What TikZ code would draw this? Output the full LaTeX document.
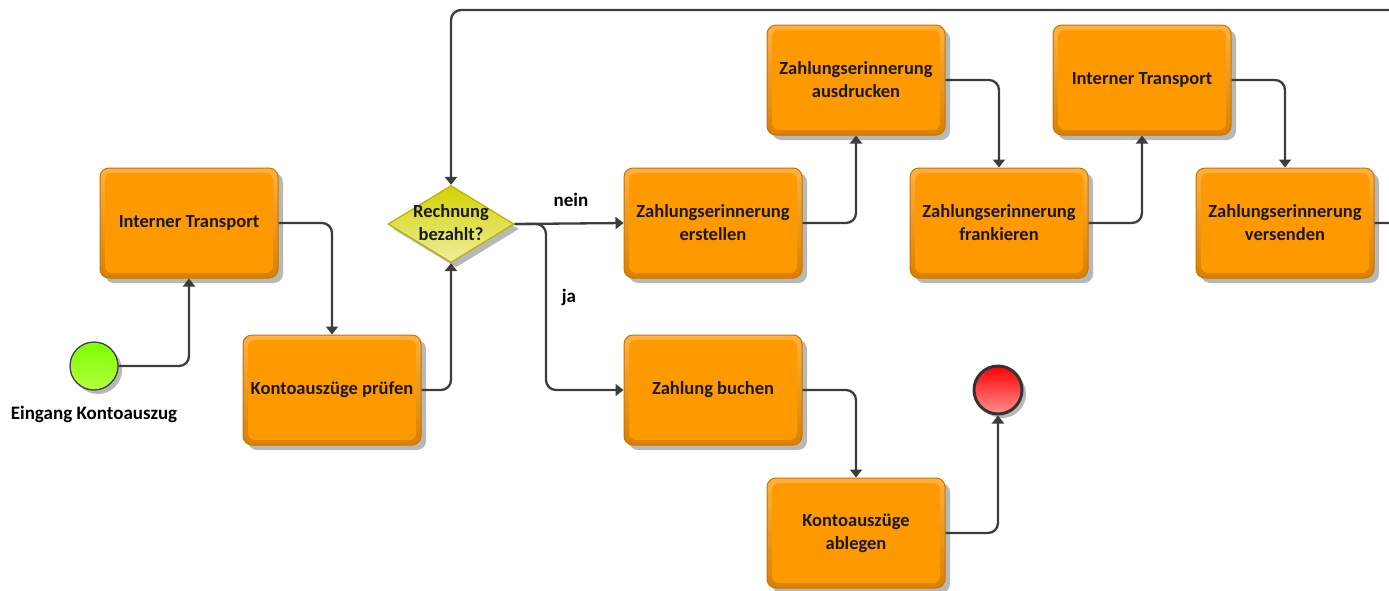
\documentclass[tikz,border=0pt]{standalone}
\usepackage{fontspec}
\setmainfont{Carlito}
\usetikzlibrary{shapes.geometric,arrows.meta,shadows,calc}
\definecolor{boxfill}{HTML}{FF9900}
\definecolor{rimtop}{HTML}{FFB040}
\definecolor{rimbot}{HTML}{D98000}
\definecolor{boxborder}{HTML}{C67500}
\definecolor{conncol}{HTML}{3C3C3C}
\definecolor{diatop}{HTML}{D2D200}
\definecolor{diabot}{HTML}{EEEEA0}
\definecolor{diaborder}{HTML}{B5B500}
\definecolor{greentop}{HTML}{7CFF00}
\definecolor{greenbot}{HTML}{B4FF40}
\definecolor{redtop}{HTML}{FF0000}
\definecolor{redbot}{HTML}{FF9090}
\tikzset{
  taskbox/.style={rectangle, rounded corners=9pt, minimum width=178pt, minimum height=110pt,
    draw=boxborder, line width=1pt, top color=rimtop, bottom color=rimbot,
    drop shadow={shadow xshift=5pt, shadow yshift=-5pt, fill=black!35, opacity=0.8},
    path picture={\fill[boxfill, rounded corners=7pt]
      ([shift={(5pt,5pt)}]path picture bounding box.south west) rectangle
      ([shift={(-5pt,-5pt)}]path picture bounding box.north east);},
    font=\bfseries\fontsize{18.5}{23}\selectfont, align=center, text=black!90},
  gateway/.style={diamond, minimum width=126pt, minimum height=77pt, inner sep=0pt,
    draw=diaborder, line width=1.2pt, top color=diatop, bottom color=diabot,
    drop shadow={shadow xshift=5pt, shadow yshift=-5pt, fill=black!35, opacity=0.8}},
  gwtext/.style={font=\bfseries\fontsize{18.5}{23}\selectfont, align=center, text=black!90},
  startev/.style={circle, minimum size=48pt, inner sep=0pt, draw=black!75, line width=1.3pt,
    top color=greentop, bottom color=greenbot,
    drop shadow={shadow xshift=4pt, shadow yshift=-4pt, fill=black!35, opacity=0.8}},
  endev/.style={circle, minimum size=48pt, inner sep=0pt, draw=black!80, line width=3pt,
    top color=redtop, bottom color=redbot,
    drop shadow={shadow xshift=4pt, shadow yshift=-4pt, fill=black!35, opacity=0.8}},
  conn/.style={draw=conncol, line width=2.3pt, rounded corners=10pt,
    -{Triangle[width=12pt,length=8pt]}},
  lbl/.style={font=\bfseries\fontsize{19}{21}\selectfont, text=black}
}
\begin{document}
\begin{tikzpicture}[x=1pt,y=-1pt]
\useasboundingbox (0,0) rectangle (1389,590);
\clip (0,0) rectangle (1389,590);
% events
\node[startev] (start) at (94,366) {};
\node[lbl] (startlbl) at (94,414) {Eingang Kontoauszug};
\node[endev] (end) at (998,390) {};
% tasks
\node[taskbox] (it1) at (189,223) {Interner Transport};
\node[taskbox] (prf) at (332,390) {Kontoauszüge prüfen};
\node[gateway] (dia) at (451,224) {};
\node[gwtext] (diatext) at (451,223) {Rechnung\\bezahlt?};
\node[taskbox] (ers) at (713,223) {Zahlungserinnerung\\erstellen};
\node[taskbox] (aus) at (856,80) {Zahlungserinnerung\\ausdrucken};
\node[taskbox] (fra) at (999,223) {Zahlungserinnerung\\frankieren};
\node[taskbox] (it2) at (1142,80) {Interner Transport};
\node[taskbox] (ver) at (1285,223) {Zahlungserinnerung\\versenden};
\node[taskbox] (buc) at (713,390) {Zahlung buchen};
\node[taskbox] (abl) at (856,533) {Kontoauszüge\\ablegen};
% connectors
\draw[conn] (start.east) -| (it1.south);
\draw[conn] (it1.east) -| (prf.north);
\draw[conn] (prf.east) -| (dia.south);
\draw[conn] (dia.east) -- (ers.west);
\coordinate (jaturn) at (546,224);
\draw[conn] (dia.east) -- (jaturn) |- (buc.west);
\draw[conn] (ers.east) -| (aus.south);
\draw[conn] (aus.east) -| (fra.north);
\draw[conn] (fra.east) -| (it2.south);
\draw[conn] (it2.east) -| (ver.north);
\draw[conn] (buc.east) -| (abl.north);
\draw[conn] (abl.east) -| (end.south);
\coordinate (loopR) at (1420,10);
\draw[conn] (ver.east) -| (loopR) -| (dia.north);
% labels
\node[lbl] (nein) at (571,200) {nein};
\node[lbl] (ja) at (569,297) {ja};
\end{tikzpicture}
\end{document}
